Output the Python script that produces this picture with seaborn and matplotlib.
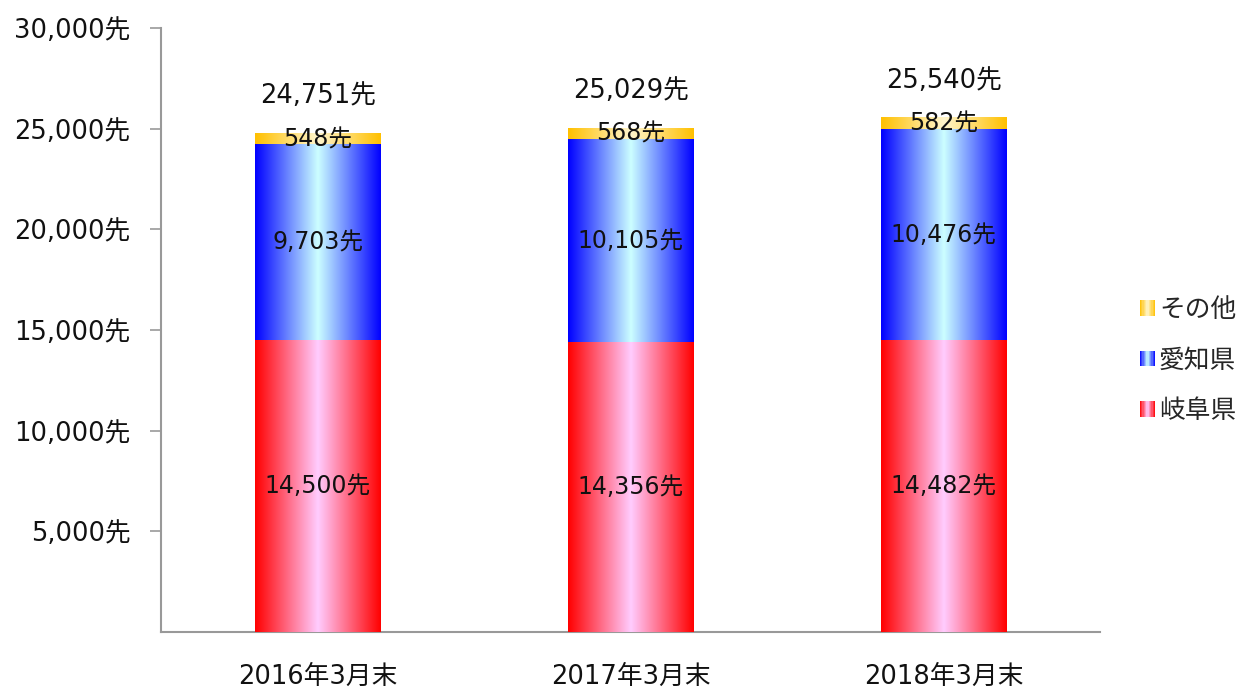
import numpy as np
import pandas as pd
import matplotlib
matplotlib.use("Agg")
import matplotlib.pyplot as plt
import matplotlib.colors as mcolors
from matplotlib.legend_handler import HandlerBase
from matplotlib.patches import Rectangle
from matplotlib.ticker import FuncFormatter
import seaborn as sns

# data
periods = ["2016年3月末", "2017年3月末", "2018年3月末"]
gifu = [14500, 14356, 14482]
aichi = [9703, 10105, 10476]
other = [548, 568, 582]
series_names = ["岐阜県", "愛知県", "その他"]

# edge colour / centre colour of the horizontal gradient per series
GRAD = {"岐阜県": ("#ff0000", "#ffccff"),
        "愛知県": ("#0000ff", "#ccffff"),
        "その他": ("#ffc000", "#fff5cc")}

sns.set_theme(style="white")
plt.rcParams["font.family"] = ["DejaVu Sans", "Noto Sans CJK JP"]

BIG = 18.5
SMALL = 17


def grad_cmap(name):
    edge, mid = GRAD[name]
    return mcolors.LinearSegmentedColormap.from_list(name, [edge, mid, edge])


class GradHandler(HandlerBase):
    """legend key drawn as a row of thin stripes"""
    def create_artists(self, legend, orig_handle, xdescent, ydescent,
                       width, height, fontsize, trans):
        cmap = grad_cmap(orig_handle.get_label())
        n = 12
        s = height
        x0 = xdescent + width - s
        arts = []
        for i in range(n):
            r = Rectangle((x0 + i * s / n, -ydescent), s / n + 0.2, s,
                          facecolor=cmap((i + 0.5) / n), edgecolor="none",
                          transform=trans)
            arts.append(r)
        return arts


df = pd.DataFrame({"period": periods, "岐阜県": gifu, "愛知県": aichi, "その他": other})
df["cum_gifu"] = df["岐阜県"]
df["cum_aichi"] = df["岐阜県"] + df["愛知県"]
df["total"] = df["cum_aichi"] + df["その他"]

fig = plt.figure(figsize=(12.49, 6.88), dpi=100)
ax = fig.add_axes([0.129, 0.0814, 0.752, 0.8779])

width = 0.40
layers = [("その他", "total"),
          ("愛知県", "cum_aichi"),
          ("岐阜県", "cum_gifu")]

grad = np.linspace(0, 1, 256).reshape(1, -1)
z = 2
for name, col in layers:
    n_before = len(ax.patches)
    sns.barplot(data=df, x="period", y=col, ax=ax, color="white",
                width=width, saturation=1, order=periods)
    for p in ax.patches[n_before:]:
        x0, x1 = p.get_x(), p.get_x() + p.get_width()
        p.set_visible(False)
        ax.imshow(grad, cmap=grad_cmap(name), aspect="auto",
                  extent=(x0, x1, 0, p.get_height()), zorder=z,
                  interpolation="bilinear")
    z += 1

# segment labels
for i in range(len(periods)):
    lo = 0
    for name in series_names:
        v = df[name][i]
        ax.text(i, lo + v / 2, f"{v:,}先", ha="center", va="center",
                fontsize=SMALL, color="#111111", zorder=10)
        lo += v
    ax.text(i, df["total"][i] + 1850, f"{df['total'][i]:,}先", ha="center",
            va="center", fontsize=BIG, color="#111111", zorder=10)

ax.set_xlim(-0.5, 2.5)
ax.set_ylim(0, 30000)
ax.set_yticks(range(5000, 30001, 5000))
ax.yaxis.set_major_formatter(FuncFormatter(lambda v, _: f"{int(v):,}先"))
ax.set_xlabel("")
ax.set_ylabel("")
ax.tick_params(axis="y", which="both", left=True, length=8, width=1.2,
               color="#999999", labelsize=BIG, labelcolor="#111111", pad=14)
ax.tick_params(axis="x", bottom=False, labelsize=BIG, labelcolor="#111111", pad=17)
for s in ["top", "right"]:
    ax.spines[s].set_visible(False)
for s in ["left", "bottom"]:
    ax.spines[s].set_color("#999999")
    ax.spines[s].set_linewidth(1.5)

leg_names = ["その他", "愛知県", "岐阜県"]
handles = [Rectangle((0, 0), 1, 1, label=n) for n in leg_names]
fig.legend(handles=handles, labels=leg_names,
           handler_map={Rectangle: GradHandler()},
           loc="center left", bbox_to_anchor=(0.895, 0.476), frameon=False,
           fontsize=BIG, handlelength=0.55, handleheight=0.55, handletextpad=0.15,
           labelspacing=0.95)

fig.savefig("out.png", dpi=100)
